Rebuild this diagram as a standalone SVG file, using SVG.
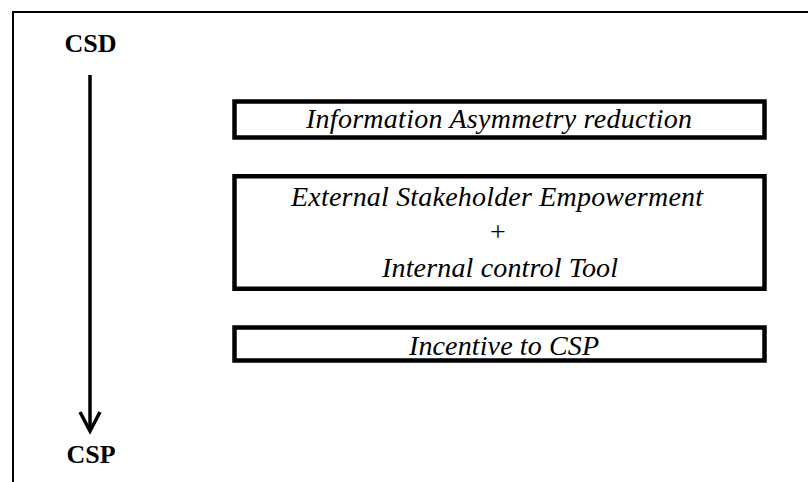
<svg xmlns="http://www.w3.org/2000/svg" width="808" height="482" viewBox="0 0 808 482">
<style>
.frame{fill:none;stroke:#000;stroke-width:2}
.box{fill:#fff;stroke:#000;stroke-width:4.5}
.arr{fill:none;stroke:#000;stroke-width:3.5}
</style>
<rect width="808" height="482" fill="#fff"/>
<path class="frame" d="M13,490 V12 H815"/>
<g font-family="Liberation Serif, Times New Roman, serif" fill="#000" text-anchor="middle">
<g id="csd"><text x="90.5" y="52" font-weight="bold" font-size="26">CSD</text></g>
<g id="csp"><text x="91" y="463" font-weight="bold" font-size="26">CSP</text></g>
<g id="connectors">
<path class="arr" d="M90,75 V431"/>
<path class="arr" d="M80,412 L90,431 L100,412"/>
</g>
<g id="box1" font-style="italic" font-size="28"><rect class="box" x="234.5" y="101.5" width="530" height="36"/>
<text x="499" y="128" textLength="386">Information Asymmetry reduction</text></g>
<g id="box2" font-size="28"><rect class="box" x="234.5" y="176.25" width="530" height="112.5"/>
<text x="497" y="206" font-style="italic" textLength="412">External Stakeholder Empowerment</text>
<text x="498" y="241">+</text>
<text x="500" y="277" font-style="italic" textLength="236">Internal control Tool</text></g>
<g id="box3" font-style="italic" font-size="28"><rect class="box" x="234.5" y="327.5" width="530" height="33"/>
<text x="504" y="355" textLength="190">Incentive to CSP</text></g>
</g>
</svg>
